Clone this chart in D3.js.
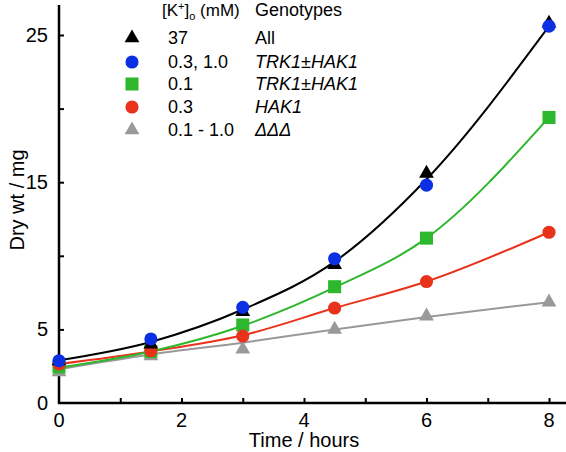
<!DOCTYPE html>
<html>
<head>
<meta charset="utf-8">
<script src="https://cdn.jsdelivr.net/npm/d3@7"></script>
<style>
  html, body { margin: 0; padding: 0; background: #fff; }
  svg { display: block; font-family: "Liberation Sans", Arial, Helvetica, sans-serif; }
</style>
</head>
<body>
<svg id="chart" width="566" height="452"></svg>
<script>
// ---- data ----
const times = [0, 1.5, 3, 4.5, 6, 8];
const allK37   = [2.85, 4.0, 6.2, 9.4, 15.6, 25.8];   // black triangles
const trkHak   = [2.87, 4.35, 6.5, 9.8, 14.8, 25.6];  // blue circles
const trkHak01 = [2.45, 3.5, 5.3, 7.9, 11.2, 19.4];   // green squares
const hak1     = [2.65, 3.55, 4.55, 6.45, 8.25, 11.6];// red circles
const ddd      = [2.1, 3.2, 3.65, 5.0, 5.9, 6.85];    // gray triangles
// fitted curves
const fitBlack = [2.9, 4.15, 6.35, 9.6, 15.2, 25.6];
const fitGreen = [2.4, 3.5, 5.25, 7.85, 11.2, 19.4];
const fitRed   = [2.65, 3.5, 4.6, 6.45, 8.25, 11.6];
const fitGray  = [2.3, 3.3, 4.1, 5.0, 5.85, 6.85];

const xTicks = [1, 2, 3, 4, 5, 6, 7, 8];
const xTickLabels = [0, 2, 4, 6, 8];
const yTicks = [5, 10, 15, 20, 25];
const yTickLabels = [0, 5, 15, 25];

const legendRows = [
  {k: "37",        g: "All",        gi: false},
  {k: "0.3, 1.0",  g: "TRK1\u00B1HAK1", gi: true},
  {k: "0.1",       g: "TRK1\u00B1HAK1", gi: true},
  {k: "0.3",       g: "HAK1",       gi: true},
  {k: "0.1 - 1.0", g: "\u0394\u0394\u0394", gi: true}
];

// ---- styles ----
const C = {black: "#000000", blue: "#0b2fe3", green: "#2cb72c", red: "#e8321c", gray: "#999999"};

const svg = d3.select("#chart");
const x = d3.scaleLinear().domain([0, 8]).range([59, 549]);
const y = d3.scaleLinear().domain([0, 25]).range([403, 35]);

// axes
const xAxisG = svg.append("g").attr("transform", "translate(0,403)");
xAxisG.call(d3.axisTop(x).tickValues(xTicks).tickSize(5).tickFormat(""));
xAxisG.select(".domain").remove();
xAxisG.selectAll(".tick line").attr("stroke", "#000").attr("stroke-width", 2);
svg.append("line").attr("x1", 58).attr("x2", 566).attr("y1", 403).attr("y2", 403)
  .attr("stroke", "#000").attr("stroke-width", 2.5);

const yAxisG = svg.append("g").attr("transform", "translate(59,0)");
yAxisG.call(d3.axisRight(y).tickValues(yTicks).tickSize(5).tickFormat(""));
yAxisG.select(".domain").remove();
yAxisG.selectAll(".tick line").attr("stroke", "#000").attr("stroke-width", 2);
svg.append("line").attr("x1", 59).attr("x2", 59).attr("y1", 5).attr("y2", 404)
  .attr("stroke", "#000").attr("stroke-width", 2.5);

svg.append("g").selectAll("text").data(xTickLabels).join("text")
  .attr("x", d => x(d)).attr("y", 427).attr("text-anchor", "middle")
  .attr("font-size", 20).text(d => d);
svg.append("g").selectAll("text").data(yTickLabels).join("text")
  .attr("x", 48).attr("y", d => y(d) + 7).attr("text-anchor", "end")
  .attr("font-size", 20).text(d => d);

svg.append("text").attr("x", 304).attr("y", 447).attr("text-anchor", "middle")
  .attr("font-size", 20).text("Time / hours");
svg.append("text").attr("transform", "translate(24,200) rotate(-90)")
  .attr("text-anchor", "middle").attr("font-size", 20).text("Dry wt / mg");

// lines
const line = d3.line().x((d, i) => x(times[i])).y(d => y(d)).curve(d3.curveMonotoneX);
[[fitGray, C.gray], [fitRed, C.red], [fitGreen, C.green], [fitBlack, C.black]].forEach(([arr, col]) => {
  svg.append("path").datum(arr).attr("d", line).attr("fill", "none")
    .attr("stroke", col).attr("stroke-width", 2);
});

// markers
const sym = {
  tri: d3.symbol().type(d3.symbolTriangle).size(95),
  sq: d3.symbol().type(d3.symbolSquare).size(170),
  circ: d3.symbol().type(d3.symbolCircle).size(135)
};
function markers(arr, s, col) {
  svg.append("g").selectAll("path").data(arr).join("path")
    .attr("transform", (d, i) => `translate(${x(times[i])},${y(d)})`)
    .attr("d", sym[s]).attr("fill", col);
}
markers(ddd, "tri", C.gray);
markers(trkHak01, "sq", C.green);
markers(hak1, "circ", C.red);
markers(allK37, "tri", C.black);
markers(trkHak, "circ", C.blue);

// legend
const lg = svg.append("g");
const hdr = lg.append("text").attr("x", 162).attr("y", 16).attr("font-size", 17);
hdr.append("tspan").text("[K");
hdr.append("tspan").attr("font-size", 11).attr("dy", -6).text("+");
hdr.append("tspan").attr("dy", 6).text("]");
hdr.append("tspan").attr("font-size", 11).attr("dy", 4).text("o");
hdr.append("tspan").attr("dy", -4).text(" (mM)");
lg.append("text").attr("x", 255).attr("y", 16).attr("font-size", 18).text("Genotypes");

const legendMarks = [["tri", C.black], ["circ", C.blue], ["sq", C.green], ["circ", C.red], ["tri", C.gray]];
const rowY = [38, 62, 84, 107, 130];
legendRows.forEach((r, i) => {
  lg.append("path").attr("transform", `translate(132,${rowY[i]})`)
    .attr("d", sym[legendMarks[i][0]]).attr("fill", legendMarks[i][1]);
  lg.append("text").attr("x", 168).attr("y", rowY[i] + 6).attr("font-size", 18).text(r.k);
  lg.append("text").attr("x", 255).attr("y", rowY[i] + 6).attr("font-size", 18)
    .attr("font-style", r.gi ? "italic" : "normal").text(r.g);
});
</script>
</body>
</html>
